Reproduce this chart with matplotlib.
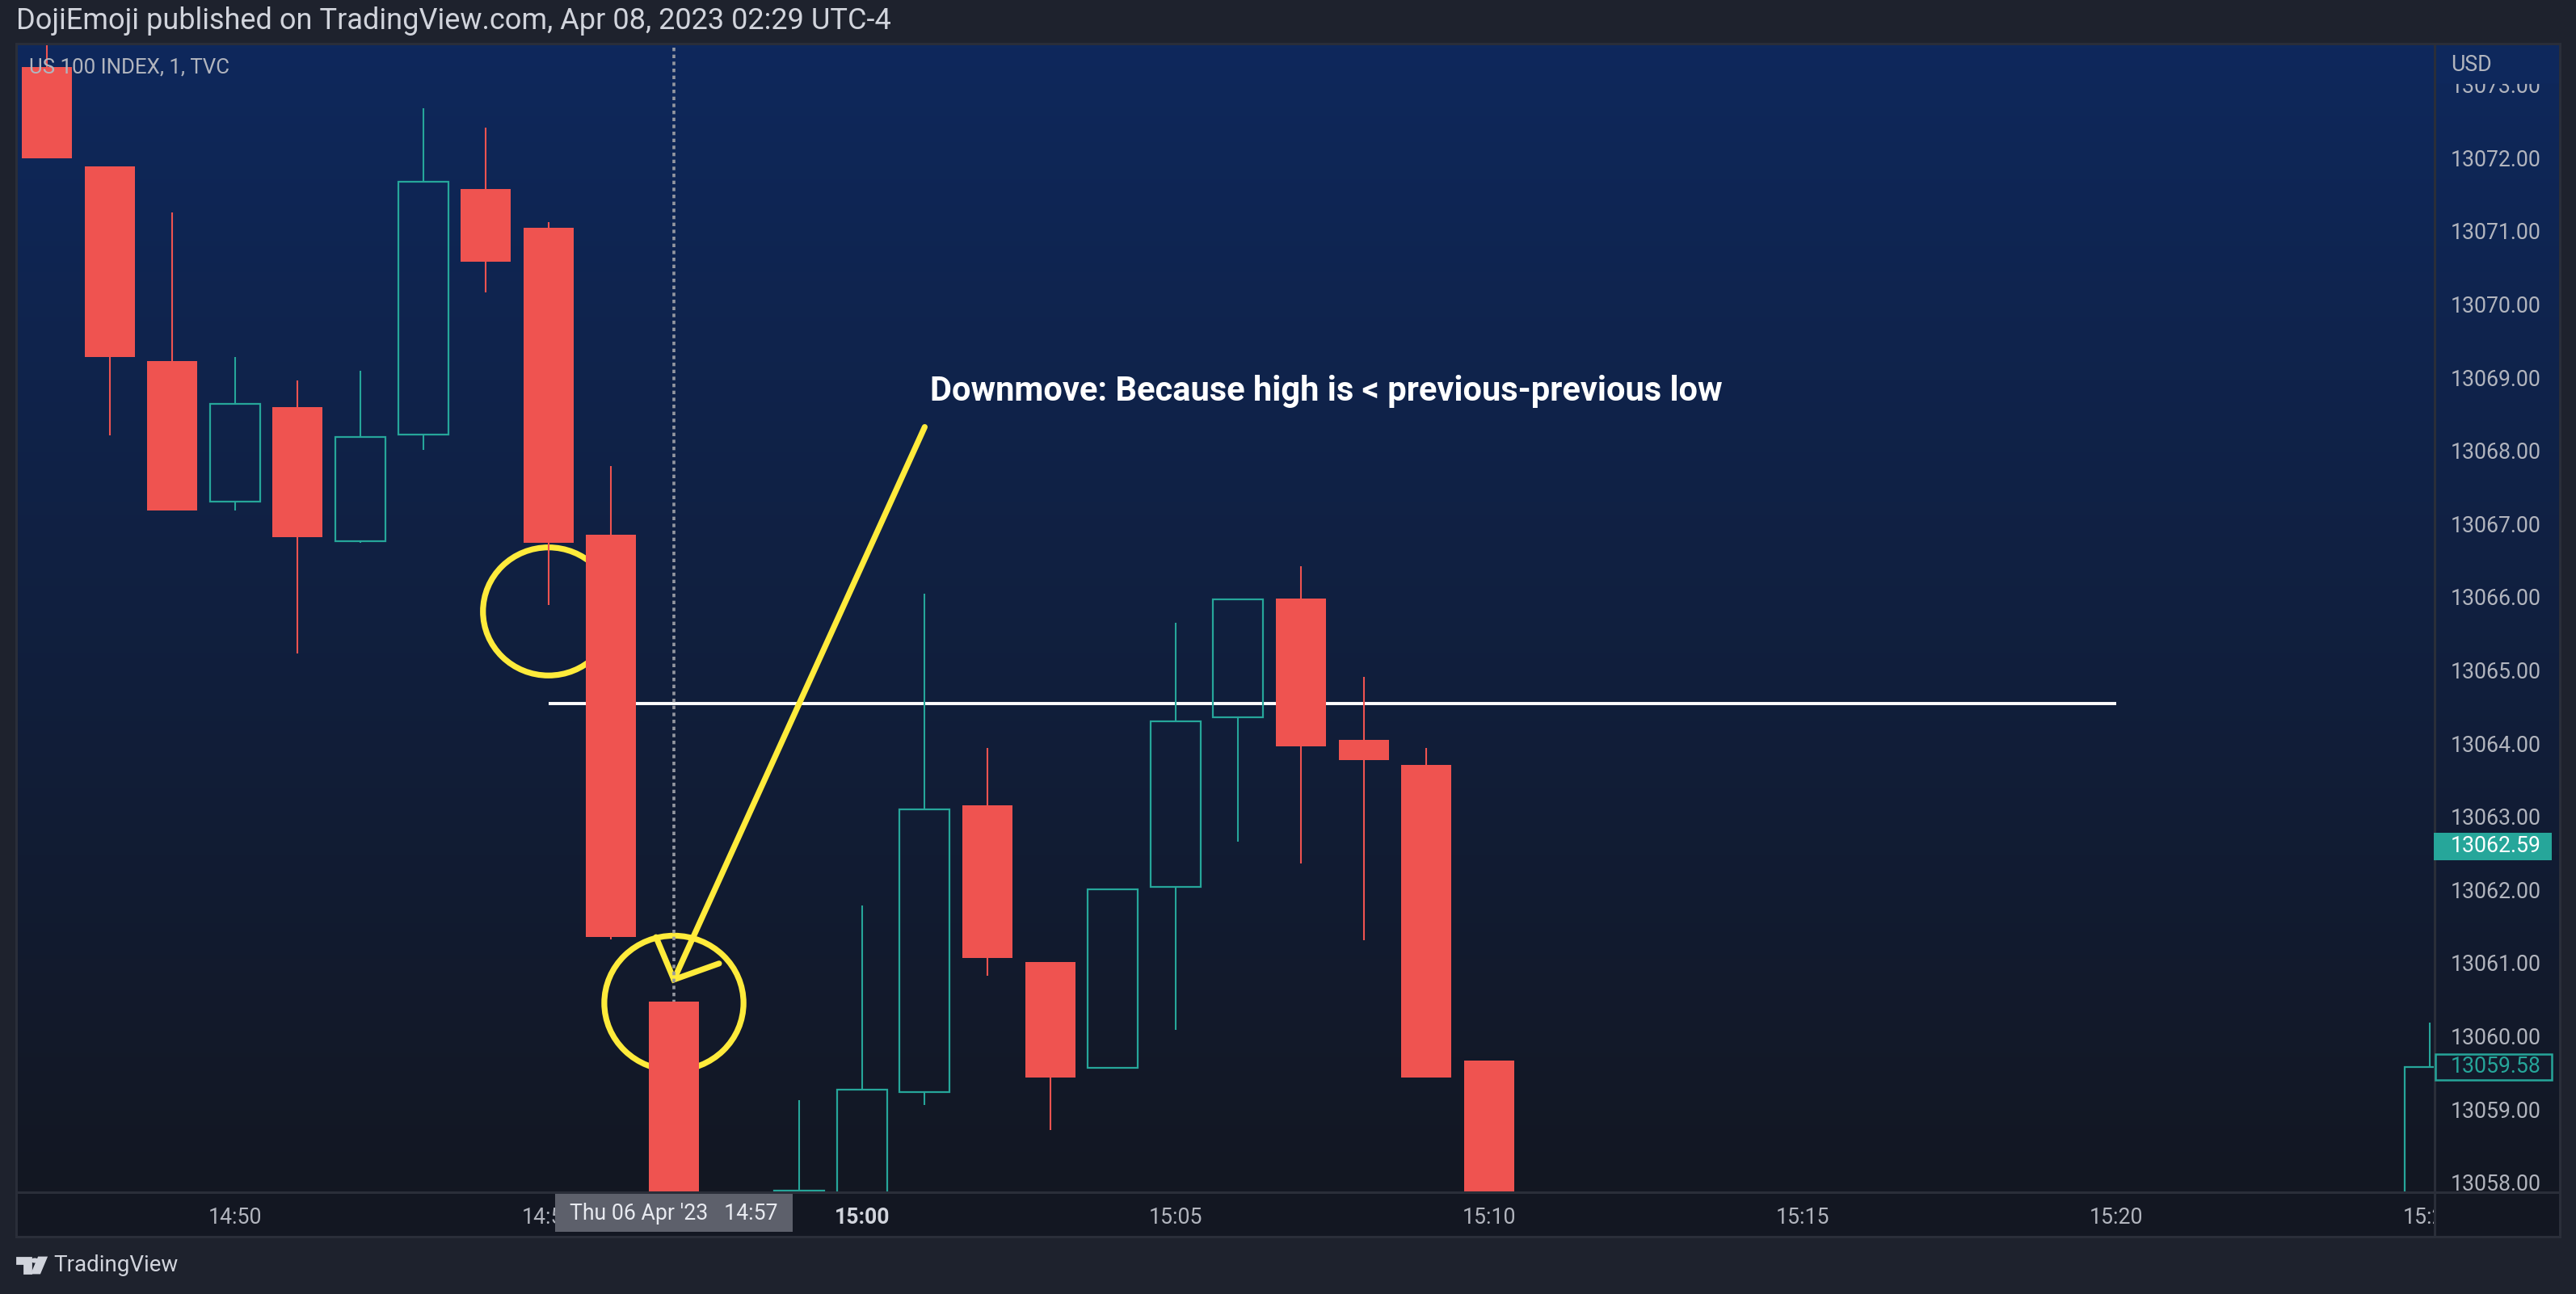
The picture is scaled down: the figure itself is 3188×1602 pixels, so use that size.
import numpy as np
import matplotlib.pyplot as plt
import matplotlib.transforms as mtransforms
from matplotlib.patches import Rectangle, Ellipse, Polygon, Circle
from matplotlib.lines import Line2D

plt.rcParams['font.family'] = ['Roboto', 'DejaVu Sans']

# 1-minute candles, time as minutes after 14:00
minutes = [47, 48, 49, 50, 51, 52, 53, 54, 55, 56, 57, 59, 60, 61, 62, 63, 64, 65, 66, 67, 68, 69, 70, 85]
opens = [13073.24, 13071.88, 13069.22, 13067.30, 13068.59, 13066.76, 13068.22, 13071.57, 13071.04, 13066.85,
         13060.47, 13057.30, 13057.50, 13059.23, 13063.15, 13061.01, 13059.56, 13062.04, 13064.35, 13065.98,
         13064.04, 13063.70, 13059.66, 13057.40]
highs = [13073.80, 13071.88, 13071.25, 13069.28, 13068.96, 13069.09, 13072.67, 13072.41, 13071.12, 13067.79,
         13060.47, 13059.12, 13061.78, 13066.04, 13063.94, 13061.01, 13062.00, 13065.64, 13065.96, 13066.42,
         13064.91, 13063.94, 13059.66, 13060.18]
lows = [13071.99, 13068.21, 13067.18, 13067.18, 13065.23, 13066.74, 13068.01, 13070.16, 13065.89, 13061.32,
        13056.50, 13057.10, 13057.30, 13059.06, 13060.82, 13058.72, 13059.56, 13060.08, 13062.66, 13062.36,
        13061.31, 13059.43, 13057.00, 13057.30]
closes = [13071.99, 13069.28, 13067.18, 13068.64, 13066.81, 13068.18, 13071.67, 13070.58, 13066.74, 13061.35,
          13056.90, 13057.89, 13059.27, 13063.10, 13061.06, 13059.43, 13062.00, 13064.30, 13065.96, 13063.96,
          13063.77, 13059.43, 13057.20, 13059.58]

price_ticks = list(range(13058, 13074))
time_ticks = [50, 55, 60, 65, 70, 75, 80, 85]
time_labels = ['14:50', '14:55', '15:00', '15:05', '15:10', '15:15', '15:20', '15:25']

level = 13064.54          # white horizontal line
last_price = 13062.59
bar_close = 13059.58

RED = '#ef5350'
GREEN = '#26a69a'
YELLOW = '#ffeb3b'
TXT = '#b2b5be'

W, H = 3188, 1602
fig = plt.figure(figsize=(W / 200, H / 200), dpi=200, facecolor='#1e222d')


def fx(x):
    return x / W


def fy(y):
    return 1 - y / H


# gradient background behind plot + price scale
bg = fig.add_axes([fx(20), fy(1476), fx(3168 - 20), (1476 - 54) / H], zorder=-2)
top = np.array([14, 40, 92]) / 255
bot = np.array([19, 23, 34]) / 255
t = np.linspace(0, 1, 256)[:, None]
grad = top[None, :] * (1 - t) + bot[None, :] * t
bg.imshow(grad[:, None, :], aspect='auto', extent=[0, 1, 0, 1])
bg.axis('off')

# time scale row
fig.add_artist(Rectangle((fx(20), fy(1531)), fx(3168 - 20), (1531 - 1476) / H,
                         transform=fig.transFigure, color='#131722', zorder=-1))

ax = fig.add_axes([fx(20), fy(1476), fx(3013 - 20), (1476 - 54) / H], zorder=0)
ax.set_facecolor('none')
ax.set_xlim(46.51, 85.08)
ax.set_ylim(13057.865, 13073.558)
for s in ax.spines.values():
    s.set_visible(False)

# candles
bw = 0.8
for m, o, h, l, c in zip(minutes, opens, highs, lows, closes):
    if c >= o:
        ax.vlines(m, c, h, color=GREEN, lw=0.75, zorder=3)
        ax.vlines(m, l, o, color=GREEN, lw=0.75, zorder=3)
        ax.add_patch(Rectangle((m - bw / 2, o), bw, c - o, fill=False, edgecolor=GREEN, lw=0.8, zorder=3))
    else:
        ax.vlines(m, l, h, color=RED, lw=0.75, zorder=3)
        ax.add_patch(Rectangle((m - bw / 2, c), bw, o - c, facecolor=RED, edgecolor='none', zorder=3))

# drawings
ax.axvline(57, color='#9598a1', ls=(0, (1.2, 1.2)), lw=1.3, zorder=2.5)
ax.hlines(level, 55, 80, color='white', lw=1.4, zorder=2)
ax.add_patch(Ellipse((55, 13065.80), 2.09, 1.75, fill=False, edgecolor=YELLOW, lw=2.6, zorder=2))
ax.add_patch(Ellipse((57, 13060.45), 2.22, 1.84, fill=False, edgecolor=YELLOW, lw=2.6, zorder=2))
ax.plot([61, 57], [13068.32, 13060.77], color=YELLOW, lw=2.6, solid_capstyle='round', zorder=2)
ax.plot([56.715, 57, 57.72], [13061.35, 13060.77, 13060.99], color=YELLOW, lw=2.6,
        solid_capstyle='round', solid_joinstyle='miter', zorder=2)
ax.text(61.08, 13068.81, 'Downmove: Because high is < previous-previous low', color='white',
        fontsize=15, fontweight='bold', ha='left', va='center', zorder=4)

# price scale
ax.yaxis.tick_right()
ax.set_yticks(price_ticks)
ax.set_yticklabels(['%.2f' % p for p in price_ticks])
ax.tick_params(axis='y', length=0, pad=7.2, labelcolor=TXT, labelsize=9.6)

# time scale
ax.set_xticks(time_ticks)
ax.set_xticklabels(time_labels)
ax.tick_params(axis='x', length=0, pad=6.5, labelcolor=TXT, labelsize=9.6)
for lab in ax.get_xticklabels():
    if lab.get_text() == '15:00':
        lab.set_fontweight('bold')
        lab.set_color('#d1d4dc')

# cover top of 13073 label under USD
fig.add_artist(Rectangle((fx(3014), fy(102)), fx(153), (102 - 55) / H, transform=fig.transFigure,
                         color='#0e285c', zorder=3))
fig.text(fx(3033), fy(80), 'USD', color=TXT, fontsize=9.6, ha='left', va='center', zorder=4)

bt = mtransforms.blended_transform_factory(fig.transFigure, ax.transData)
ax_h = 1422 / (13073.558 - 13057.865)   # px per price unit
fig.add_artist(Rectangle((fx(3012), last_price - 17 / ax_h), fx(146), 34 / ax_h, transform=bt,
                         facecolor=GREEN, edgecolor='none', zorder=5))
fig.text(fx(3033), last_price, '%.2f' % last_price, transform=bt, color='white', fontsize=9.6,
         ha='left', va='center', zorder=6)
fig.add_artist(Rectangle((fx(3014), bar_close - 16 / ax_h), fx(144), 32 / ax_h, transform=bt,
                         facecolor='#131a2b', edgecolor=GREEN, lw=0.9, zorder=5))
fig.text(fx(3033), bar_close, '%.2f' % bar_close, transform=bt, color=GREEN, fontsize=9.6,
         ha='left', va='center', zorder=6)

# crosshair time label
tt = mtransforms.blended_transform_factory(ax.transData, fig.transFigure)
fig.add_artist(Rectangle((57 - 1.89, fy(1525)), 3.78, 47 / H, transform=tt,
                         facecolor='#5d606b', edgecolor='none', zorder=5))
fig.text(57, fy(1502), "Thu 06 Apr '23   14:57", transform=tt, color='#e8eaf0', fontsize=9.6,
         ha='center', va='center', zorder=6)

# bottom-right corner of scales
fig.add_artist(Rectangle((fx(3013), fy(1531)), fx(155), 55 / H, transform=fig.transFigure,
                         color='#131722', zorder=4))

# panel borders
bc = '#2a2e39'
for xs, ys in [([20, 3168], [54, 54]), ([20, 3168], [1531, 1531]), ([20, 20], [54, 1531]),
               ([3168, 3168], [54, 1531]), ([3013, 3013], [54, 1531]), ([20, 3168], [1476, 1476])]:
    fig.add_artist(Line2D([fx(v) for v in xs], [fy(v) for v in ys], transform=fig.transFigure,
                          color=bc, lw=1.1, zorder=4.5))

# header and footer
fig.text(fx(20), fy(26), 'DojiEmoji published on TradingView.com, Apr 08, 2023 02:29 UTC-4',
         color='#d1d4dc', fontsize=13, ha='left', va='center')
fig.text(fx(36), fy(84), 'US 100 INDEX, 1, TVC', color=TXT, fontsize=9.3, ha='left', va='center', zorder=5)

logo = '#d1d4dc'
fig.add_artist(Polygon([(fx(21), fy(1557)), (fx(38), fy(1557)), (fx(38), fy(1576)), (fx(30), fy(1576)),
                        (fx(30), fy(1564)), (fx(21), fy(1564))], closed=True, transform=fig.transFigure,
                       color=logo))
fig.add_artist(Circle((fx(43), fy(1560.5)), 3.3 / W, transform=fig.transFigure, color=logo))
fig.add_artist(Polygon([(fx(48), fy(1557)), (fx(57), fy(1557)), (fx(49), fy(1576)), (fx(40), fy(1576))],
                       closed=True, transform=fig.transFigure, color=logo))
fig.text(fx(66), fy(1567), 'TradingView', color=logo, fontsize=10, ha='left', va='center')

fig.savefig('out.png', dpi=200, facecolor=fig.get_facecolor())
